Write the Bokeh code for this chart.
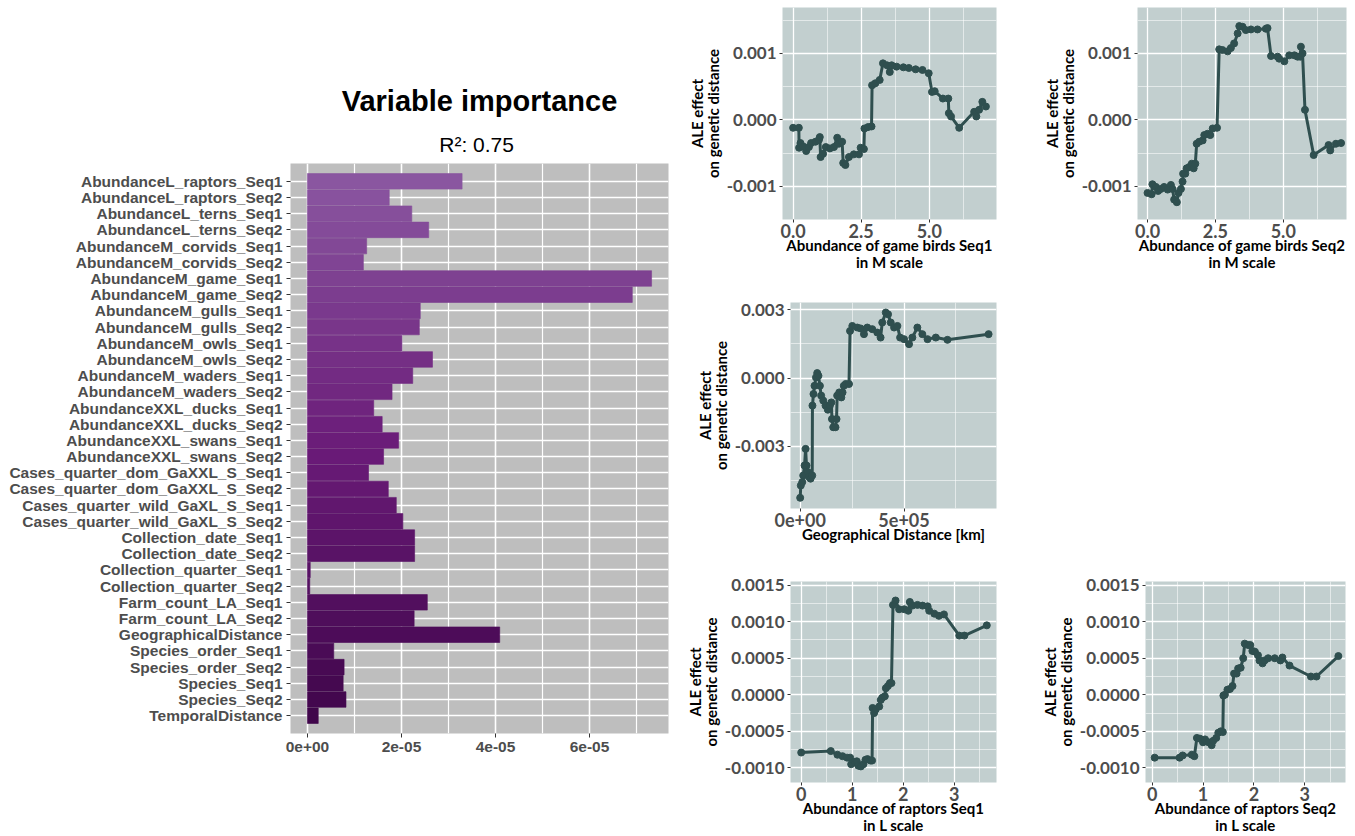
import numpy as np
from bokeh.plotting import figure
from bokeh.layouts import row, column
from bokeh.models import (FactorRange, Range1d, FixedTicker, NumeralTickFormatter,
                          CustomJSTickFormatter, Title, Spacer, ColumnDataSource)
from bokeh.embed import file_html
from bokeh.resources import INLINE

# ---------------- data ----------------
variables = [
    "AbundanceL_raptors_Seq1", "AbundanceL_raptors_Seq2", "AbundanceL_terns_Seq1",
    "AbundanceL_terns_Seq2", "AbundanceM_corvids_Seq1", "AbundanceM_corvids_Seq2",
    "AbundanceM_game_Seq1", "AbundanceM_game_Seq2", "AbundanceM_gulls_Seq1",
    "AbundanceM_gulls_Seq2", "AbundanceM_owls_Seq1", "AbundanceM_owls_Seq2",
    "AbundanceM_waders_Seq1", "AbundanceM_waders_Seq2", "AbundanceXXL_ducks_Seq1",
    "AbundanceXXL_ducks_Seq2", "AbundanceXXL_swans_Seq1", "AbundanceXXL_swans_Seq2",
    "Cases_quarter_dom_GaXXL_S_Seq1", "Cases_quarter_dom_GaXXL_S_Seq2",
    "Cases_quarter_wild_GaXL_S_Seq1", "Cases_quarter_wild_GaXL_S_Seq2",
    "Collection_date_Seq1", "Collection_date_Seq2", "Collection_quarter_Seq1",
    "Collection_quarter_Seq2", "Farm_count_LA_Seq1", "Farm_count_LA_Seq2",
    "GeographicalDistance", "Species_order_Seq1", "Species_order_Seq2",
    "Species_Seq1", "Species_Seq2", "TemporalDistance",
]
importance = [
    3.29e-5, 1.74e-5, 2.22e-5, 2.58e-5, 1.26e-5, 1.19e-5,
    7.32e-5, 6.91e-5, 2.40e-5, 2.38e-5, 2.01e-5, 2.66e-5,
    2.24e-5, 1.80e-5, 1.41e-5, 1.59e-5, 1.94e-5, 1.62e-5,
    1.30e-5, 1.72e-5, 1.89e-5, 2.03e-5, 2.28e-5, 2.28e-5,
    0.6e-6, 0.5e-6, 2.55e-5, 2.27e-5, 4.09e-5, 5.6e-6,
    7.8e-6, 7.6e-6, 8.2e-6, 2.3e-6,
]
r2_text = "R\u00b2:  0.75"

game1_x = [0.00, 0.21, 0.22, 0.27, 0.37, 0.48, 0.58, 0.66, 0.82, 0.95, 0.98, 1.01, 1.10,
           1.20, 1.35, 1.50, 1.62, 1.68, 1.80, 1.84, 1.92, 2.05, 2.23, 2.42, 2.48, 2.60,
           2.62, 2.75, 2.88, 2.90, 3.02, 3.18, 3.30, 3.45, 3.55, 3.62, 3.80, 4.05, 4.25,
           4.50, 4.75, 4.98, 5.10, 5.20, 5.50, 5.70, 5.72, 5.80, 6.10, 6.65, 6.73, 6.83,
           6.95, 7.08]
game1_y = [-0.00012, -0.00012, -0.00042, -0.00035, -0.00040, -0.00047, -0.00041, -0.00035,
           -0.00033, -0.00030, -0.00026, -0.00056, -0.00051, -0.00041, -0.00043, -0.00041,
           -0.00027, -0.00036, -0.00033, -0.00065, -0.00068, -0.00056, -0.00052, -0.00052,
           -0.00042, -0.00044, -0.00013, -0.00011, -0.00010, 0.00052, 0.00055, 0.00060,
           0.00085, 0.00082, 0.00072, 0.00082, 0.00080, 0.00079, 0.00078, 0.00076,
           0.00075, 0.00070, 0.00042, 0.00043, 0.00032, 0.00032, 0.00010, 0.00005,
           -0.00012, 0.00012, 0.00005, 0.00015, 0.00027, 0.00020]

game2_x = [0.00, 0.15, 0.18, 0.31, 0.39, 0.49, 0.61, 0.74, 0.86, 0.92, 0.98, 1.08, 1.14,
           1.23, 1.29, 1.31, 1.39, 1.44, 1.54, 1.63, 1.70, 1.76, 1.81, 1.90, 2.03, 2.09,
           2.21, 2.31, 2.40, 2.56, 2.64, 2.76, 2.95, 3.07, 3.19, 3.32, 3.38, 3.50, 3.62,
           3.81, 4.05, 4.36, 4.42, 4.55, 4.79, 4.85, 5.04, 5.22, 5.41, 5.53, 5.63, 5.65,
           5.71, 5.80, 6.12, 6.67, 6.73, 6.94, 7.13]
game2_y = [-0.00110, -0.00112, -0.00097, -0.00101, -0.00107, -0.00104, -0.00101, -0.00105,
           -0.00098, -0.00104, -0.00120, -0.00124, -0.00110, -0.00104, -0.00093, -0.00081,
           -0.00081, -0.00073, -0.00071, -0.00066, -0.00073, -0.00066, -0.00036, -0.00033,
           -0.00031, -0.00023, -0.00021, -0.00023, -0.00013, -0.00012, 0.00106, 0.00105,
           0.00103, 0.00108, 0.00115, 0.00130, 0.00141, 0.00140, 0.00135, 0.00136,
           0.00136, 0.00137, 0.00138, 0.00096, 0.00095, 0.00092, 0.00088, 0.00097,
           0.00097, 0.00095, 0.00095, 0.00110, 0.00100, 0.00015, -0.00053, -0.00038,
           -0.00046, -0.00036, -0.00035]

geo_x = [0, 3e3, 1.0e4, 1.45e4, 2.1e4, 2.6e4, 3.05e4, 3.7e4, 4.3e4, 5.0e4, 5.8e4, 5.9e4,
         6.4e4, 6.9e4, 7.6e4, 8.2e4, 8.8e4, 9.5e4, 1.01e5, 1.11e5, 1.22e5, 1.33e5,
         1.43e5, 1.50e5, 1.53e5, 1.59e5, 1.70e5, 1.75e5, 1.78e5, 1.88e5, 1.98e5,
         2.04e5, 2.10e5, 2.19e5, 2.35e5, 2.40e5, 2.51e5, 2.75e5, 2.91e5, 3.07e5,
         3.23e5, 3.47e5, 3.71e5, 3.87e5, 3.95e5, 4.12e5, 4.23e5, 4.36e5, 4.52e5,
         4.68e5, 4.81e5, 5.00e5, 5.24e5, 5.40e5, 5.64e5, 5.88e5, 6.13e5, 6.53e5,
         7.09e5, 9.07e5]
geo_y = [-0.00526, -0.00472, -0.00457, -0.00428, -0.00384, -0.00311, -0.00384, -0.00413,
         -0.00435, -0.00442, -0.00428, -0.00121, -0.00070, -0.00034, 0.00003, 0.00022,
         0.00010, -0.00034, -0.00077, -0.00099, -0.00121, -0.00139, -0.00121, -0.00107,
         -0.00180, -0.00216, -0.00216, -0.00180, -0.00077, -0.00063, -0.00085, -0.00063,
         -0.00034, -0.00026, -0.00026, 0.00207, 0.00229, 0.00222, 0.00218, 0.00193,
         0.00222, 0.00215, 0.00200, 0.00178, 0.00244, 0.00288, 0.00280, 0.00244,
         0.00222, 0.00229, 0.00178, 0.00171, 0.00149, 0.00178, 0.00222, 0.00193,
         0.00171, 0.00178, 0.00168, 0.00193]

rap1_x = [0.00, 0.58, 0.71, 0.81, 0.90, 0.96, 0.98, 1.05, 1.09, 1.12, 1.17, 1.22, 1.26,
          1.30, 1.36, 1.39, 1.40, 1.43, 1.46, 1.53, 1.56, 1.59, 1.64, 1.66, 1.70, 1.74,
          1.77, 1.80, 1.85, 1.92, 2.02, 2.10, 2.13, 2.18, 2.28, 2.38, 2.48, 2.51, 2.61,
          2.70, 2.80, 3.10, 3.20, 3.64]
rap1_y = [-0.00079, -0.00077, -0.00082, -0.00084, -0.00086, -0.00086, -0.00095, -0.00092,
          -0.00091, -0.00097, -0.00098, -0.00095, -0.00089, -0.00088, -0.00090, -0.00090,
          -0.00018, -0.00025, -0.00020, -0.00016, -0.00007, -0.00004, -0.00002, 0.00009,
          0.00012, 0.00016, 0.00016, 0.00123, 0.00129, 0.00117, 0.00117, 0.00115,
          0.00127, 0.00122, 0.00123, 0.00122, 0.00121, 0.00115, 0.00111, 0.00108,
          0.00110, 0.00081, 0.00081, 0.00095]

rap2_x = [0.05, 0.54, 0.60, 0.78, 0.83, 0.88, 0.94, 1.00, 1.04, 1.11, 1.17, 1.20, 1.26,
          1.30, 1.35, 1.39, 1.40, 1.43, 1.48, 1.53, 1.58, 1.61, 1.66, 1.69, 1.74, 1.79,
          1.82, 1.89, 1.93, 1.97, 2.02, 2.08, 2.11, 2.17, 2.21, 2.28, 2.41, 2.52, 2.56,
          2.70, 3.12, 3.23, 3.66]
rap2_y = [-0.00086, -0.00086, -0.00083, -0.00082, -0.00084, -0.00059, -0.00060, -0.00065,
          -0.00061, -0.00065, -0.00069, -0.00063, -0.00059, -0.00052, -0.00050, -0.00051,
          -0.00001, 0.00000, 0.00007, 0.00008, 0.00012, 0.00029, 0.00029, 0.00036,
          0.00037, 0.00050, 0.00070, 0.00068, 0.00068, 0.00060, 0.00059, 0.00054,
          0.00047, 0.00043, 0.00047, 0.00050, 0.00050, 0.00047, 0.00051, 0.00040,
          0.00025, 0.00025, 0.00053]

# ---------------- styles ----------------
LBL_FONT = "Liberation Sans"
ALE_FONT = "Lato"
ALE_BG = "#C2CFCF"
ALE_LINE = "#2F4F4F"


def gradient(n, stops):
    cols = []
    stops = [tuple(int(s[i:i + 2], 16) for i in (1, 3, 5)) for s in stops]
    for k in range(n):
        t = k / (n - 1) * (len(stops) - 1)
        i = min(int(t), len(stops) - 2)
        f = t - i
        c = [round(stops[i][j] + (stops[i + 1][j] - stops[i][j]) * f) for j in range(3)]
        cols.append("#%02x%02x%02x" % tuple(c))
    return cols


bar_colors = gradient(len(variables), ["#8A56A0", "#6A1B78", "#40064B"])

sci_code = """
    const s = tick.toExponential(0);
    const m = s.match(/^(-?\\d)e([+-])(\\d+)$/);
    if (!m) return s;
    return m[1] + 'e' + m[2] + m[3].padStart(2, '0');
"""

# ---------------- variable importance ----------------
factors = variables[::-1]
src = ColumnDataSource(dict(var=variables, imp=importance, col=bar_colors))
p = figure(width=680, height=834, y_range=FactorRange(factors=factors, range_padding=0.6,
                                                      range_padding_units="absolute"),
           x_range=Range1d(-3.6e-6, 7.68e-5), output_backend="svg", toolbar_location=None,
           min_border_left=290, min_border_right=12, min_border_top=163, min_border_bottom=101)
p.hbar(y="var", left=0, right="imp", height=0.96, fill_color="col", line_color="col",
       line_alpha=0.6, source=src)
p.background_fill_color = "#BEBEBE"
p.outline_line_color = None
p.xaxis.ticker = FixedTicker(ticks=[0, 2e-5, 4e-5, 6e-5], minor_ticks=[1e-5, 3e-5, 5e-5, 7e-5])
p.xaxis.formatter = CustomJSTickFormatter(code=sci_code)
p.xgrid.grid_line_color = "white"
p.xgrid.grid_line_width = 1.6
p.xgrid.minor_grid_line_color = "white"
p.xgrid.minor_grid_line_width = 1.2
p.ygrid.grid_line_color = "white"
p.ygrid.grid_line_width = 1.6
for ax in (p.xaxis, p.yaxis):
    ax.axis_line_color = None
    ax.major_tick_line_color = "#333333"
    ax.major_tick_in = 0
    ax.major_tick_out = 4
    ax.minor_tick_line_color = None
    ax.major_label_text_font = LBL_FONT
    ax.major_label_text_font_style = "bold"
    ax.major_label_text_color = "#4D4D4D"
    ax.major_label_text_font_size = "15.5px"
p.yaxis.major_label_standoff = 4
p.xaxis.major_label_standoff = 4
p.add_layout(Title(text=r2_text, align="center", text_font=LBL_FONT, text_font_size="21px",
                   text_font_style="normal", text_color="black", standoff=15), "above")
p.add_layout(Title(text="Variable importance", align="center", text_font=LBL_FONT,
                   text_font_size="29px", text_font_style="bold", text_color="black",
                   standoff=14), "above")


# ---------------- ALE panels ----------------
def ale_fig(x, y, width, height, ml, mr, mt, mb, xr, yr, xt_, xmin_, yt_, ymin_, xfmt, yfmt,
            xlabel):
    f = figure(width=width, height=height, x_range=Range1d(*xr), y_range=Range1d(*yr),
               output_backend="svg", toolbar_location=None, min_border_left=ml,
               min_border_right=mr, min_border_top=mt, min_border_bottom=mb)
    f.background_fill_color = ALE_BG
    f.outline_line_color = None
    f.line(x, y, line_color=ALE_LINE, line_width=3)
    f.scatter(x, y, size=7, color=ALE_LINE)
    f.xaxis.ticker = FixedTicker(ticks=xt_, minor_ticks=xmin_)
    f.yaxis.ticker = FixedTicker(ticks=yt_, minor_ticks=ymin_)
    f.xaxis.formatter = xfmt
    f.yaxis.formatter = yfmt
    for g in (f.xgrid, f.ygrid):
        g.grid_line_color = "white"
        g.grid_line_width = 1.3
        g.minor_grid_line_color = "white"
        g.minor_grid_line_alpha = 0.55
        g.minor_grid_line_width = 1
    for ax in (f.xaxis, f.yaxis):
        ax.axis_line_color = None
        ax.major_tick_line_color = "#333333"
        ax.major_tick_in = 0
        ax.major_tick_out = 3
        ax.minor_tick_line_color = None
        ax.major_label_text_font = ALE_FONT
        ax.major_label_text_font_style = "bold"
        ax.major_label_text_color = "#4D4D4D"
        ax.major_label_text_font_size = "18px"
        ax.major_label_standoff = 2
        ax.axis_label_text_font = ALE_FONT
        ax.axis_label_text_font_style = "bold"
        ax.axis_label_text_color = "black"
        ax.axis_label_text_font_size = "15px"
        ax.axis_label_text_line_height = 0.95
    f.yaxis.major_label_text_font_size = "17px"
    f.yaxis.axis_label_text_line_height = 0.88
    f.xaxis.major_label_standoff = 0
    f.yaxis.axis_label = "ALE effect\non genetic distance"
    f.xaxis.axis_label = xlabel
    f.yaxis.axis_label_standoff = 2
    f.xaxis.axis_label_standoff = -5
    return f


g_xt, g_xm = [0, 2.5, 5.0], [1.25, 3.75, 6.25]
g_yt, g_ym = [-0.001, 0, 0.001], [-0.0015, -0.0005, 0.0005, 0.0015]
r_xt, r_xm = [0, 1, 2, 3], [0.5, 1.5, 2.5, 3.5]
r_yt = [-0.001, -0.0005, 0, 0.0005, 0.001, 0.0015]
r_ym = [-0.00075, -0.00025, 0.00025, 0.00075, 0.00125]

p1 = ale_fig(game1_x, game1_y, 342, 285, 102, 26, 7, 66, (-0.39, 7.47), (-0.0015, 0.00169),
             g_xt, g_xm, g_yt, g_ym, NumeralTickFormatter(format="0.0"),
             NumeralTickFormatter(format="0.000"),
             "Abundance of game birds Seq1\nin M scale")
p2 = ale_fig(game2_x, game2_y, 333, 285, 115, 9, 7, 66, (-0.37, 7.33), (-0.0015, 0.00169),
             g_xt, g_xm, g_yt, g_ym, NumeralTickFormatter(format="0.0"),
             NumeralTickFormatter(format="0.000"),
             "Abundance of game birds Seq2\nin M scale")
p3 = ale_fig(geo_x, geo_y, 342, 280, 110, 26, 17, 57, (-4.66e4, 9.45e5), (-0.00573, 0.00332),
             [0, 5e5], [2.5e5, 7.5e5], [-0.003, 0, 0.003], [-0.0045, -0.0015, 0.0015],
             CustomJSTickFormatter(code=sci_code), NumeralTickFormatter(format="0.000"),
             "Geographical Distance [km]")
p4 = ale_fig(rap1_x, rap1_y, 342, 271, 110, 26, 16, 51, (-0.21, 3.83), (-0.0012, 0.00155),
             r_xt, r_xm, r_yt, r_ym, NumeralTickFormatter(format="0"),
             NumeralTickFormatter(format="0.0000"),
             "Abundance of raptors Seq1\nin L scale")
p5 = ale_fig(rap2_x, rap2_y, 333, 271, 123, 10, 16, 51, (-0.13, 3.80), (-0.0012, 0.00155),
             r_xt, r_xm, r_yt, r_ym, NumeralTickFormatter(format="0"),
             NumeralTickFormatter(format="0.0000"),
             "Abundance of raptors Seq2\nin L scale")

right = column(row(p1, p2), row(p3, Spacer(width=333, height=280)), row(p4, p5))
layout = row(p, right)

open("out.html", "w").write(file_html(layout, INLINE))
